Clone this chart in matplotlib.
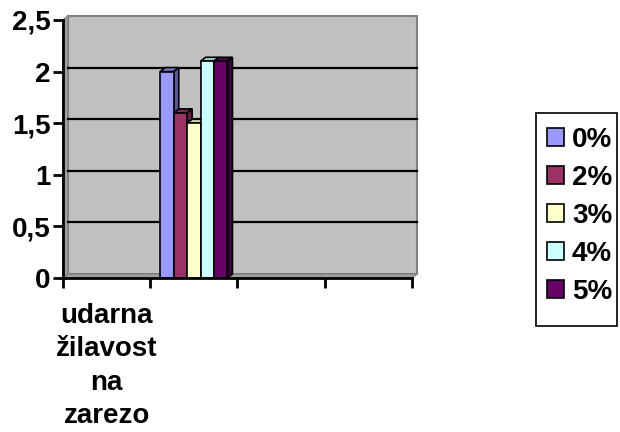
import matplotlib
matplotlib.use("Agg")
import matplotlib.pyplot as plt
from matplotlib.patches import Rectangle, Polygon
from matplotlib.colors import to_rgb

# ---- data ----
categories = ["udarna\nžilavost\nna\nzarezo", "", "", ""]
series = ["0%", "2%", "3%", "4%", "5%"]
values = [2.0, 1.6, 1.5, 2.1, 2.1]
colors = ["#9999FF", "#993366", "#FFFFCC", "#CCFFFF", "#660066"]
yticks = [0, 0.5, 1, 1.5, 2, 2.5]
ytick_labels = ["0", "0,5", "1", "1,5", "2", "2,5"]
bar_slot = 1  # bars appear in second category slot

plt.rcParams['font.family'] = ['Liberation Sans', 'DejaVu Sans']
FS = 20
LFS = 20
W, H, DPI = 6.2, 4.32, 100
fig = plt.figure(figsize=(W, H), dpi=DPI)
left_px, right_px, top_px, bot_px = 63, 412, 20, 278
ax = fig.add_axes([left_px / 620, 1 - bot_px / 432,
                   (right_px - left_px) / 620, (bot_px - top_px) / 432])
ax.set_facecolor("none")
nx = len(categories)
ax.set_xlim(0, nx)
ax.set_ylim(0, 2.5)

# depth offset (pixels -> data units)
dpx, dpy = 5, 4
dx = dpx / ((right_px - left_px) / nx)
dy = dpy / ((bot_px - top_px) / 2.5)

# back wall
ax.add_patch(Rectangle((dx, dy), nx, 2.5, facecolor="#C0C0C0",
                       edgecolor="#808080", lw=1.5, zorder=0.5, clip_on=False))
# side wall and floor
ax.add_patch(Polygon([(0, 0), (0, 2.5), (dx, 2.5 + dy), (dx, dy)],
                     closed=True, facecolor="#A0A0A0", edgecolor="#808080",
                     lw=1, zorder=0.6, clip_on=False))
ax.add_patch(Polygon([(0, 0), (nx, 0), (nx + dx, dy), (dx, dy)],
                     closed=True, facecolor="#A0A0A0", edgecolor="#808080",
                     lw=1, zorder=0.6, clip_on=False))
# gridlines on wall
for v in yticks[1:-1]:
    ax.plot([dx, nx + dx], [v + dy, v + dy], color="black", lw=1.6,
            zorder=0.7, clip_on=False)

# bars
bw = 0.154
n = len(values)
x_start = bar_slot + 0.5 - n * bw / 2
z = 2
for i, (v, c, s) in enumerate(zip(values, colors, series)):
    x0 = x_start + i * bw
    x1 = x0 + bw
    r, g, b = to_rgb(c)
    dark = (r * 0.6, g * 0.6, b * 0.6)
    mid = (r * 0.8, g * 0.8, b * 0.8)
    ax.bar(x0, v, width=bw, align="edge", color=c, edgecolor="black",
           lw=1.2, zorder=z + 1, label=s)
    ax.add_patch(Polygon([(x0, v), (x1, v), (x1 + dx, v + dy), (x0 + dx, v + dy)],
                         closed=True, facecolor=mid, edgecolor="black", lw=1.2,
                         zorder=z, clip_on=False))
    ax.add_patch(Polygon([(x1, 0), (x1, v), (x1 + dx, v + dy), (x1 + dx, dy)],
                         closed=True, facecolor=dark, edgecolor="black", lw=1.2,
                         zorder=z, clip_on=False))
    z += 2

# axes
for sp in ["top", "right"]:
    ax.spines[sp].set_visible(False)
ax.spines["left"].set_linewidth(2)
ax.spines["bottom"].set_linewidth(2)
ax.spines["left"].set_zorder(20)
ax.spines["bottom"].set_zorder(20)
ax.set_yticks(yticks)
ax.set_yticklabels(ytick_labels, fontsize=FS, fontweight="bold")
ax.set_xticks(range(nx + 1))
ax.set_xticklabels([])
ax.tick_params(axis="both", direction="out", length=7, width=2, pad=2)

for i, cat in enumerate(categories):
    if cat:
        ax.text(i + 0.5, -0.095, cat, transform=ax.get_xaxis_transform(),
                ha="center", va="top", fontsize=FS, fontweight="bold",
                linespacing=1.38)

# legend: frame drawn separately so its padding matches the reference
fig.add_artist(Rectangle((536 / 620, 1 - 326 / 432), 81 / 620, 213 / 432,
                         transform=fig.transFigure, fill=False,
                         edgecolor="black", lw=1.2))
leg = fig.legend(loc="upper left", bbox_to_anchor=(547 / 620, 1 - 127 / 432),
                 frameon=False, prop={"size": LFS, "weight": "bold"},
                 handlelength=0.61, handleheight=0.61, handletextpad=0.29,
                 labelspacing=0.43, borderpad=0, borderaxespad=0)

fig.savefig("out.png", dpi=DPI)
